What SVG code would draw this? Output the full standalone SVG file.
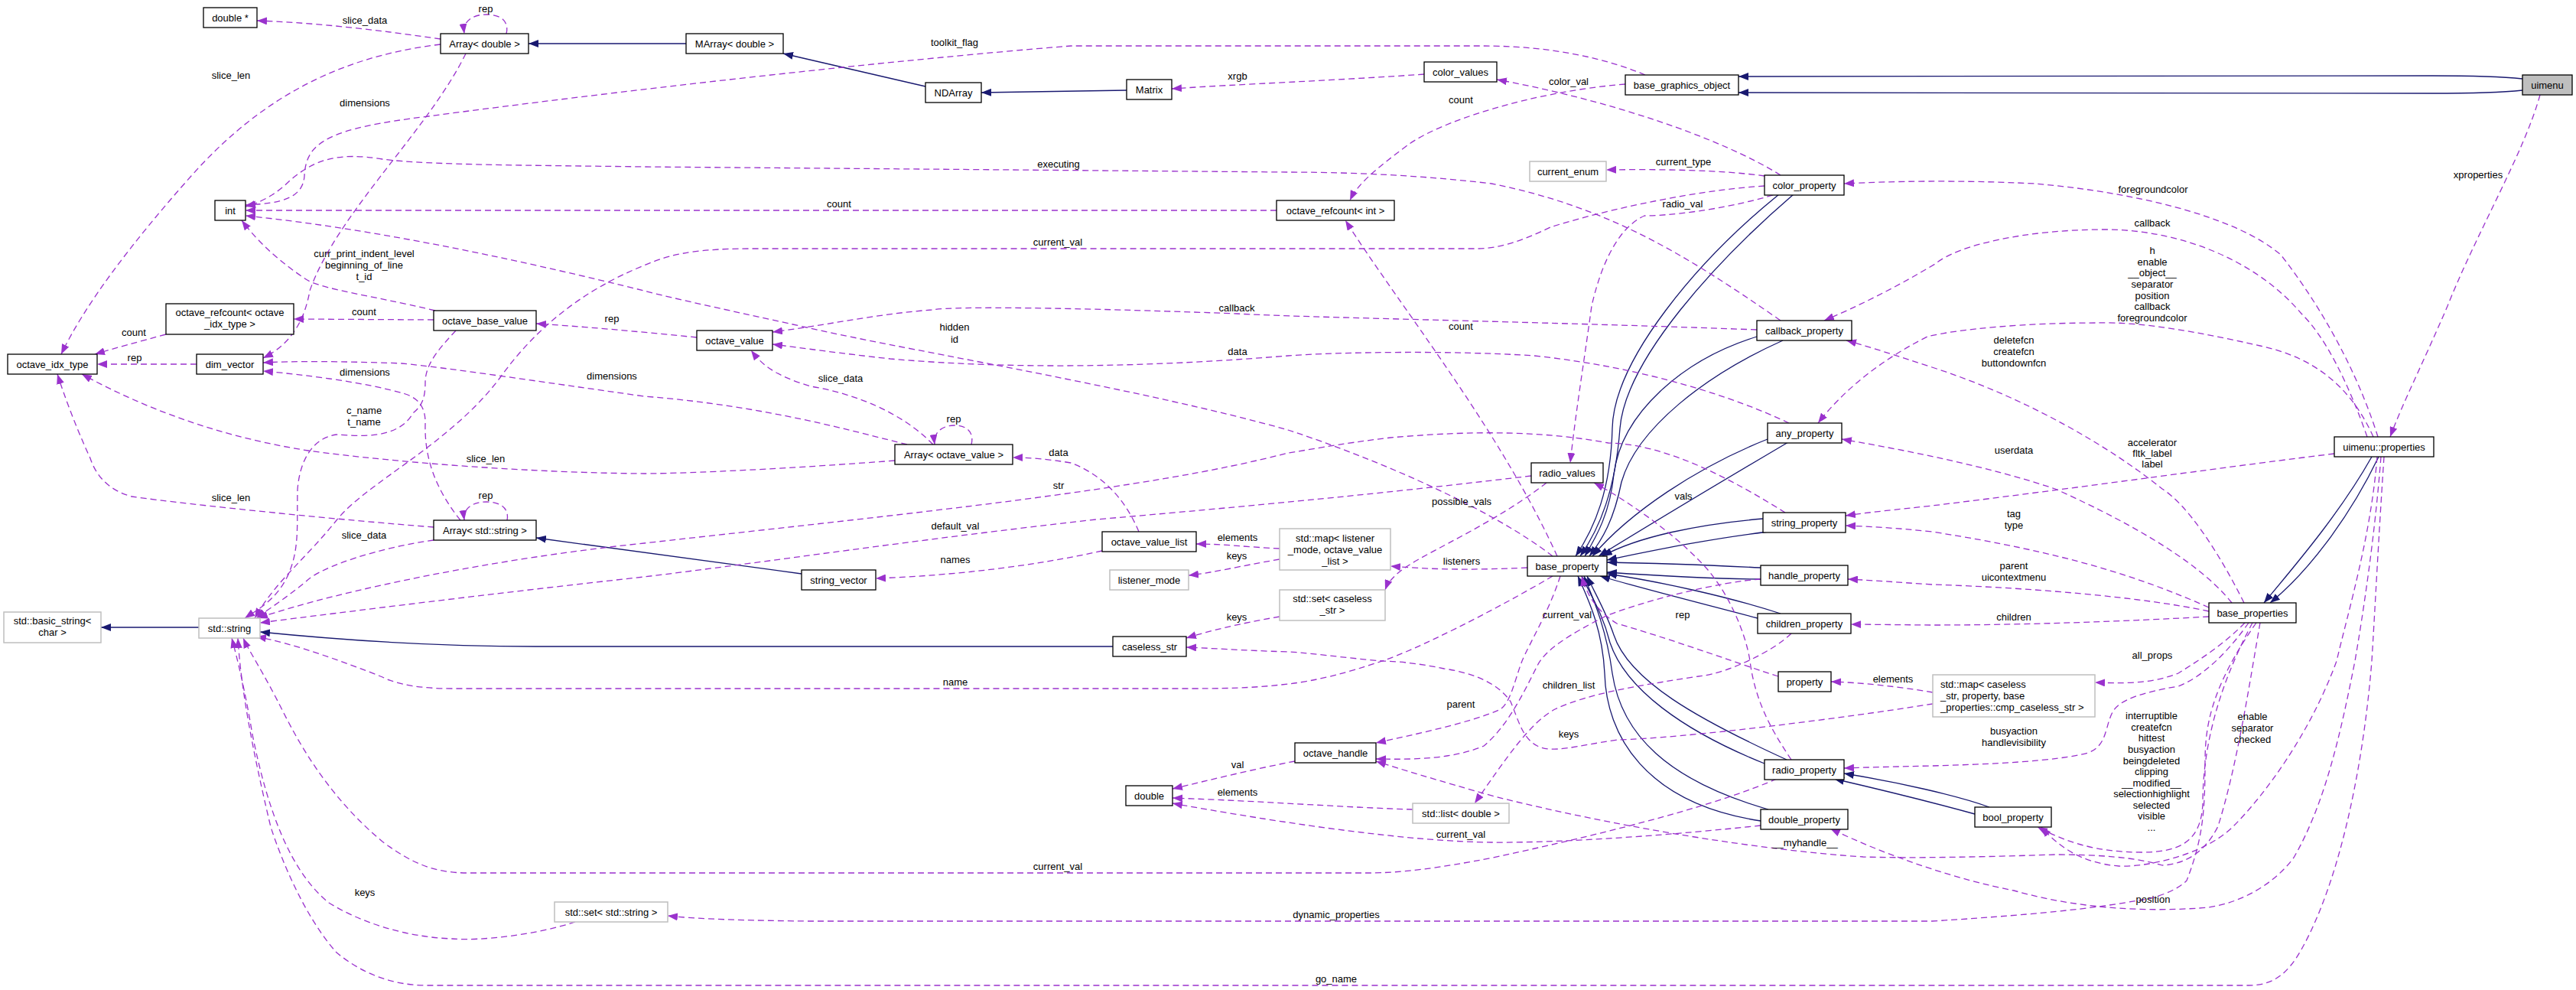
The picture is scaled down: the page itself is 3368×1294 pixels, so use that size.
<svg xmlns="http://www.w3.org/2000/svg" width="3368" height="1294" viewBox="0 0 3368 1294">
<style>
.n rect{fill:#fff;stroke:#000;stroke-width:1.3}
.g rect{fill:#fff;stroke:#bfbfbf;stroke-width:1.5}
.r rect{fill:#bfbfbf;stroke:#000;stroke-width:1.3}
text{font-family:"Liberation Sans",Arial,Helvetica,sans-serif;font-size:13px;fill:#000;text-anchor:middle}
.lt{text-anchor:start}
.e{fill:none;stroke:#9a32cd;stroke-width:1.3;stroke-dasharray:8,5;marker-end:url(#ap)}
.i{fill:none;stroke:#191970;stroke-width:1.3;marker-end:url(#an)}
</style>
<defs>
<marker id="ap" viewBox="0 0 13 10" refX="13" refY="5" markerWidth="13" markerHeight="10" orient="auto" markerUnits="userSpaceOnUse"><path d="M0,0 L13,5 L0,10 z" fill="#9a32cd"/></marker>
<marker id="an" viewBox="0 0 13 10" refX="13" refY="5" markerWidth="13" markerHeight="10" orient="auto" markerUnits="userSpaceOnUse"><path d="M0,0 L13,5 L0,10 z" fill="#191970"/></marker>
</defs>
<rect width="3368" height="1294" fill="#fff"/>
<g id="edges">
<path class="i" d="M3298,103 C3260,99 3220,99 3180,99 L2273,100"/>
<path class="i" d="M3298,118 C3260,122 3220,122 3180,122 L2273,121"/>
<path class="i" d="M897,57 L691,57"/>
<path class="i" d="M1210,113 L1024,70"/>
<path class="i" d="M1473,118 L1283,121"/>
<path class="i" d="M260,820 L132,820"/>
<path class="i" d="M1455,845 L700,845 C560,845 440,836 340,826"/>
<path class="i" d="M1048,750 L701,703"/>
<path class="i" d="M2326,254 C2220,340 2110,470 2108,560 C2106,640 2085,690 2060,727"/>
<path class="i" d="M2345,254 C2245,340 2125,470 2118,560 C2112,640 2092,690 2066,727"/>
<path class="i" d="M2297,440 C2200,470 2120,540 2110,620 C2105,670 2088,700 2072,727"/>
<path class="i" d="M2331,445 C2230,490 2140,560 2120,630 C2110,680 2095,705 2078,727"/>
<path class="i" d="M2311,574 C2220,610 2130,670 2082,727"/>
<path class="i" d="M2338,578 C2250,630 2150,690 2090,727"/>
<path class="i" d="M2305,678 C2220,685 2140,702 2095,727"/>
<path class="i" d="M2312,695 C2230,705 2160,720 2101,732"/>
<path class="i" d="M2302,742 C2240,739 2160,736 2101,735"/>
<path class="i" d="M2302,757 C2240,757 2160,752 2101,748"/>
<path class="i" d="M2328,802 C2260,780 2170,760 2101,750"/>
<path class="i" d="M2298,808 C2230,790 2150,770 2092,753"/>
<path class="i" d="M2336,993 C2220,940 2130,890 2110,830 C2100,800 2085,775 2075,753"/>
<path class="i" d="M2307,998 C2200,955 2125,900 2105,840 C2095,800 2078,775 2068,753"/>
<path class="i" d="M2312,1058 C2180,1020 2120,960 2108,880 C2100,820 2082,780 2071,753"/>
<path class="i" d="M2302,1073 C2150,1050 2100,960 2098,880 C2095,820 2075,780 2063,753"/>
<path class="i" d="M2601,1055 C2560,1040 2480,1022 2411,1011"/>
<path class="i" d="M2582,1064 C2520,1047 2450,1030 2398,1018"/>
<path class="i" d="M3101,597 C3060,670 3000,740 2960,788"/>
<path class="i" d="M3110,597 C3070,680 3015,750 2968,788"/>
<path class="e" d="M576,51 C500,40 420,30 336,27"/>
<path class="e" d="M662,44 C666,28 655,19 636,19 C617,19 605,28 607,44"/>
<path class="e" d="M576,58 C430,75 330,140 250,230 C170,320 110,400 80,463"/>
<path class="e" d="M609,70 C560,170 440,280 405,380 C398,420 380,450 344,468"/>
<path class="e" d="M2151,98 C2080,68 2000,60 1940,60 L1400,60 C1150,80 800,120 560,152 C430,168 400,185 398,230 C396,258 370,266 321,268"/>
<path class="e" d="M1862,97 C1750,105 1620,110 1532,116"/>
<path class="e" d="M2328,229 C2250,180 2100,130 1957,104"/>
<path class="e" d="M2125,110 C2000,120 1880,160 1840,190 C1800,220 1775,240 1765,262"/>
<path class="e" d="M2307,230 C2250,222 2170,221 2100,222"/>
<path class="e" d="M2307,243 C2200,250 2080,280 2027,297 C1990,315 1960,325 1930,325 L980,325 C900,325 870,335 842,347 C760,380 700,430 655,492 C590,580 480,630 440,680 C400,730 360,760 333,808"/>
<path class="e" d="M2318,255 C2250,275 2180,282 2150,282 C2110,300 2090,360 2081,400 C2070,480 2060,540 2053,605"/>
<path class="e" d="M1669,275 L321,275"/>
<path class="e" d="M2328,419 C2200,330 2100,270 1950,240 C1850,228 1750,225 1684,225 L842,218 C700,216 560,216 500,208 C440,198 410,210 380,235 C360,255 340,265 321,270"/>
<path class="e" d="M569,406 C480,385 420,378 400,365 C370,345 340,320 316,288"/>
<path class="e" d="M2030,727 C1950,665 1800,600 1684,562 C1500,510 1200,460 1073,432 C950,405 880,390 842,380 C700,345 500,300 321,282"/>
<path class="e" d="M2036,727 C1960,560 1830,400 1759,288"/>
<path class="e" d="M2297,431 C2000,420 1700,415 1617,410 C1400,402 1250,400 1218,405 C1150,410 1080,425 1010,434"/>
<path class="e" d="M2339,553 C2270,520 2150,480 2006,465 C1900,458 1750,460 1684,465 C1500,480 1325,483 1164,469 C1100,462 1050,455 1010,450"/>
<path class="e" d="M911,441 C850,435 780,428 701,423"/>
<path class="e" d="M1220,581 C1180,540 1120,515 1060,505 C1010,490 995,475 982,458"/>
<path class="e" d="M1270,581 C1274,565 1264,556 1248,556 C1232,556 1220,565 1222,581"/>
<path class="e" d="M1186,581 C1120,565 1000,530 842,518 C700,498 580,480 525,475 C450,472 380,472 344,474"/>
<path class="e" d="M1170,602 C1000,615 880,619 842,619 C700,618 520,605 403,589 C300,573 200,540 107,489"/>
<path class="e" d="M567,689 C450,680 250,660 172,649 C140,640 125,620 118,599 C100,560 85,520 75,489"/>
<path class="e" d="M663,680 C666,665 655,656 636,656 C617,656 605,665 607,680"/>
<path class="e" d="M602,680 C570,640 555,600 556,555 C557,530 545,520 530,515 C480,500 400,490 344,485"/>
<path class="e" d="M567,706 C500,715 420,740 400,760 C370,785 345,800 335,808"/>
<path class="e" d="M596,432 C575,455 556,475 556,500 C556,520 552,530 540,540 C520,575 470,570 440,568 C410,572 392,600 389,640 C388,690 392,720 375,755 C360,785 335,798 320,808"/>
<path class="e" d="M567,418 L384,417"/>
<path class="e" d="M217,437 C180,447 150,455 124,463"/>
<path class="e" d="M257,476 L127,476"/>
<path class="e" d="M1489,695 C1470,650 1440,620 1400,605 C1370,600 1345,598 1324,598"/>
<path class="e" d="M1441,720 C1350,740 1250,752 1145,756"/>
<path class="e" d="M1673,717 C1630,715 1600,711 1564,711"/>
<path class="e" d="M1673,731 C1620,740 1590,748 1554,752"/>
<path class="e" d="M1997,742 C1930,745 1880,745 1818,740"/>
<path class="e" d="M2022,631 C1960,680 1870,720 1840,740 C1825,750 1815,760 1811,771"/>
<path class="e" d="M2002,622 C1850,640 1700,656 1433,679 C1200,705 1000,735 842,754 C650,775 450,800 340,814"/>
<path class="e" d="M2334,670 C2270,630 2180,580 2103,579 C2000,560 1900,565 1818,572 C1750,580 1700,590 1684,592 C1500,640 1200,670 842,710 C650,730 450,770 337,808"/>
<path class="e" d="M2030,753 C1950,800 1850,850 1807,864 C1760,880 1720,890 1684,894 C1650,898 1620,900 1560,900 L591,900 C550,900 520,895 500,885 C450,865 380,840 335,832"/>
<path class="e" d="M752,1205 C700,1222 630,1230 591,1227 C530,1225 470,1205 430,1180 C380,1140 350,1060 330,960 C320,900 310,860 303,834"/>
<path class="e" d="M2323,1018 C2250,1050 2120,1085 1952,1121 C1880,1135 1830,1141 1791,1141 L612,1141 C570,1141 540,1130 500,1100 C440,1050 400,990 370,930 C345,880 325,850 318,834"/>
<path class="e" d="M1847,1058 C1750,1055 1650,1047 1533,1043"/>
<path class="e" d="M1693,995 C1640,1005 1580,1020 1533,1031"/>
<path class="e" d="M2302,1079 C2200,1090 2050,1102 1950,1101 C1850,1100 1700,1080 1533,1050"/>
<path class="e" d="M2302,757 C2250,760 2150,785 2100,805 C2050,830 2020,850 2010,870 C1990,910 1970,950 1940,975 C1900,992 1850,993 1799,992"/>
<path class="e" d="M2040,753 C2025,800 2000,840 1990,864 C1980,890 1975,920 1960,928 C1920,945 1850,960 1799,971"/>
<path class="e" d="M2342,828 C2320,850 2260,880 2221,884 C2150,895 2080,905 2033,927 C2000,945 1970,990 1928,1050"/>
<path class="e" d="M2325,884 C2280,870 2200,840 2114,815 C2090,800 2075,780 2068,753"/>
<path class="e" d="M2527,905 C2480,897 2430,892 2394,891"/>
<path class="e" d="M2527,920 C2400,940 2200,965 2114,967 C2060,975 2030,985 2010,975 C1990,965 1985,940 1975,917 C1960,895 1930,880 1888,874 C1850,866 1820,864 1807,864 C1760,860 1700,852 1684,852 C1620,850 1580,847 1551,846"/>
<path class="e" d="M1673,806 C1620,815 1580,825 1551,834"/>
<path class="e" d="M2342,993 C2320,960 2295,920 2288,864 C2283,830 2260,770 2221,732 C2180,690 2120,650 2084,631"/>
<path class="e" d="M3321,124 C3300,200 3240,300 3200,400 C3170,470 3140,530 3125,571"/>
<path class="e" d="M3109,571 C3090,510 3050,420 2982,333 C2920,280 2780,250 2660,240 C2560,235 2470,237 2411,240"/>
<path class="e" d="M3095,571 C3070,500 3040,440 3009,410 C2950,340 2850,300 2752,300 C2650,300 2560,320 2530,345 C2480,375 2430,400 2385,419"/>
<path class="e" d="M3103,571 C3080,520 3040,470 2955,452 C2880,435 2800,420 2741,422 C2650,422 2560,430 2520,440 C2460,470 2410,510 2377,553"/>
<path class="e" d="M2934,788 C2900,720 2860,660 2827,639 C2760,585 2650,520 2526,480 C2480,465 2440,452 2414,445"/>
<path class="e" d="M2918,788 C2880,740 2800,690 2687,639 C2600,610 2500,590 2408,574"/>
<path class="e" d="M3052,593 C2950,605 2700,640 2526,661 C2480,666 2440,670 2413,674"/>
<path class="e" d="M2888,794 C2800,755 2700,722 2526,695 C2480,690 2440,688 2413,687"/>
<path class="e" d="M2888,799 C2800,780 2650,768 2526,764 C2480,761 2440,758 2416,757"/>
<path class="e" d="M2888,806 C2780,812 2650,817 2526,817 L2420,816"/>
<path class="e" d="M2935,814 C2910,840 2880,860 2848,880 C2810,895 2770,893 2739,892"/>
<path class="e" d="M2940,814 C2915,850 2880,885 2848,897 C2800,905 2770,915 2762,931 C2752,950 2755,975 2730,984 C2690,995 2600,999 2526,1001 C2480,1002 2440,1003 2411,1004"/>
<path class="e" d="M2945,814 C2910,880 2880,960 2880,1050 C2878,1100 2850,1114 2800,1114 C2740,1114 2700,1100 2664,1081"/>
<path class="e" d="M3108,597 C3100,700 3070,800 3055,864 C3020,960 2960,1040 2920,1080 C2880,1120 2800,1134 2770,1132 C2720,1128 2690,1105 2669,1081"/>
<path class="e" d="M2950,814 C2890,900 2883,950 2883,997 C2883,1060 2880,1097 2859,1151 C2840,1170 2800,1177 2795,1177 C2750,1185 2687,1194 2526,1204 L1057,1204 C950,1203 900,1200 873,1197"/>
<path class="e" d="M2955,814 C2940,900 2925,1000 2900,1080 C2880,1120 2850,1130 2827,1131 C2790,1120 2740,1117 2687,1117 C2600,1120 2500,1122 2436,1120 C2300,1111 2114,1081 1954,1041 C1880,1020 1830,1005 1799,995"/>
<path class="e" d="M3113,597 C3105,700 3090,800 3079,864 C3060,960 3040,1050 2999,1121 C2970,1160 2920,1185 2875,1187 C2800,1192 2714,1187 2633,1164 C2560,1150 2470,1120 2393,1083"/>
<path class="e" d="M3117,597 C3110,700 3105,800 3101,864 C3090,1000 3060,1150 3009,1241 C2990,1275 2970,1288 2940,1288 L558,1288 C510,1288 470,1270 440,1245 C400,1200 370,1130 354,1081 C330,980 315,900 311,834"/>
</g>
<g id="labels">
<text x="477" y="31">slice_data</text>
<text x="635" y="16">rep</text>
<text x="302" y="103">slice_len</text>
<text x="477" y="139">dimensions</text>
<text x="1248" y="60">toolkit_flag</text>
<text x="1618" y="104">xrgb</text>
<text x="2051" y="111">color_val</text>
<text x="1910" y="135">count</text>
<text x="2201" y="216">current_type</text>
<text x="1383" y="321">current_val</text>
<text x="2200" y="271">radio_val</text>
<text x="1097" y="271">count</text>
<text x="1384" y="219">executing</text>
<text x="476" y="336">curr_print_indent_level</text>
<text x="476" y="351">beginning_of_line</text>
<text x="476" y="366">t_id</text>
<text x="1248" y="432">hidden</text>
<text x="1248" y="448">id</text>
<text x="1910" y="431">count</text>
<text x="1617" y="407">callback</text>
<text x="1618" y="464">data</text>
<text x="800" y="421">rep</text>
<text x="1099" y="499">slice_data</text>
<text x="1247" y="552">rep</text>
<text x="800" y="496">dimensions</text>
<text x="635" y="604">slice_len</text>
<text x="302" y="655">slice_len</text>
<text x="635" y="652">rep</text>
<text x="477" y="491">dimensions</text>
<text x="476" y="704">slice_data</text>
<text x="476" y="541">c_name</text>
<text x="476" y="556">t_name</text>
<text x="476" y="412">count</text>
<text x="175" y="439">count</text>
<text x="176" y="472">rep</text>
<text x="1384" y="596">data</text>
<text x="1249" y="736">names</text>
<text x="1618" y="707">elements</text>
<text x="1617" y="731">keys</text>
<text x="1911" y="738">listeners</text>
<text x="1911" y="660">possible_vals</text>
<text x="1249" y="692">default_val</text>
<text x="1384" y="639">str</text>
<text x="1249" y="896">name</text>
<text x="477" y="1171">keys</text>
<text x="1383" y="1137">current_val</text>
<text x="1618" y="1040">elements</text>
<text x="1618" y="1004">val</text>
<text x="1910" y="1095">current_val</text>
<text x="2049" y="808">current_val</text>
<text x="1910" y="925">parent</text>
<text x="2051" y="900">children_list</text>
<text x="2200" y="808">rep</text>
<text x="2475" y="892">elements</text>
<text x="2051" y="964">keys</text>
<text x="1617" y="811">keys</text>
<text x="2201" y="653">vals</text>
<text x="3240" y="233">xproperties</text>
<text x="2815" y="252">foregroundcolor</text>
<text x="2814" y="296">callback</text>
<text x="2814" y="332">h</text>
<text x="2814" y="347">enable</text>
<text x="2814" y="361">__object__</text>
<text x="2814" y="376">separator</text>
<text x="2814" y="391">position</text>
<text x="2814" y="405">callback</text>
<text x="2814" y="420">foregroundcolor</text>
<text x="2633" y="449">deletefcn</text>
<text x="2633" y="464">createfcn</text>
<text x="2633" y="479">buttondownfcn</text>
<text x="2633" y="593">userdata</text>
<text x="2814" y="583">accelerator</text>
<text x="2814" y="597">fltk_label</text>
<text x="2814" y="611">label</text>
<text x="2633" y="676">tag</text>
<text x="2633" y="691">type</text>
<text x="2633" y="744">parent</text>
<text x="2633" y="759">uicontextmenu</text>
<text x="2633" y="811">children</text>
<text x="2814" y="861">all_props</text>
<text x="2633" y="960">busyaction</text>
<text x="2633" y="975">handlevisibility</text>
<text x="2813" y="940">interruptible</text>
<text x="2813" y="955">createfcn</text>
<text x="2813" y="969">hittest</text>
<text x="2813" y="984">busyaction</text>
<text x="2813" y="999">beingdeleted</text>
<text x="2813" y="1013">clipping</text>
<text x="2813" y="1028">__modified__</text>
<text x="2813" y="1042">selectionhighlight</text>
<text x="2813" y="1057">selected</text>
<text x="2813" y="1071">visible</text>
<text x="2813" y="1086">...</text>
<text x="2945" y="941">enable</text>
<text x="2945" y="956">separator</text>
<text x="2945" y="971">checked</text>
<text x="1747" y="1200">dynamic_properties</text>
<text x="2360" y="1106">__myhandle__</text>
<text x="2815" y="1180">position</text>
<text x="1747" y="1284">go_name</text>
</g>
<g id="n_double_ptr" class="n"><rect x="266" y="10" width="70" height="26"/><text x="301" y="27.5">double *</text></g>
<g id="n_array_double" class="n"><rect x="576" y="44" width="115" height="26"/><text x="633.5" y="61.5">Array&lt; double &gt;</text></g>
<g id="n_marray_double" class="n"><rect x="897" y="44" width="127" height="26"/><text x="960.5" y="61.5">MArray&lt; double &gt;</text></g>
<g id="n_ndarray" class="n"><rect x="1210" y="108" width="73" height="26"/><text x="1246.5" y="125.5">NDArray</text></g>
<g id="n_matrix" class="n"><rect x="1473" y="104" width="59" height="26"/><text x="1502.5" y="121.5">Matrix</text></g>
<g id="n_color_values" class="n"><rect x="1862" y="81" width="95" height="26"/><text x="1909.5" y="98.5">color_values</text></g>
<g id="n_base_graphics_object" class="n"><rect x="2125" y="98" width="148" height="26"/><text x="2199" y="115.5">base_graphics_object</text></g>
<g id="n_uimenu" class="r"><rect x="3298" y="98" width="65" height="26"/><text x="3330.5" y="115.5">uimenu</text></g>
<g id="n_current_enum" class="g"><rect x="2000" y="211" width="100" height="26"/><text x="2050" y="228.5">current_enum</text></g>
<g id="n_color_property" class="n"><rect x="2307" y="229" width="104" height="26"/><text x="2359" y="246.5">color_property</text></g>
<g id="n_int" class="n"><rect x="281" y="262" width="40" height="26"/><text x="301" y="279.5">int</text></g>
<g id="n_refcount_int" class="n"><rect x="1669" y="262" width="154" height="26"/><text x="1746" y="279.5">octave_refcount&lt; int &gt;</text></g>
<g id="n_refcount_idx" class="n"><rect x="217" y="397" width="167" height="40"/><text x="300.5" y="413">octave_refcount&lt; octave</text><text x="300.5" y="428">_idx_type &gt;</text></g>
<g id="n_octave_base_value" class="n"><rect x="567" y="406" width="134" height="26"/><text x="634" y="423.5">octave_base_value</text></g>
<g id="n_octave_value" class="n"><rect x="911" y="432" width="99" height="26"/><text x="960.5" y="449.5">octave_value</text></g>
<g id="n_callback_property" class="n"><rect x="2297" y="419" width="124" height="26"/><text x="2359" y="436.5">callback_property</text></g>
<g id="n_octave_idx_type" class="n"><rect x="10" y="463" width="117" height="26"/><text x="68.5" y="480.5">octave_idx_type</text></g>
<g id="n_dim_vector" class="n"><rect x="257" y="463" width="87" height="26"/><text x="300.5" y="480.5">dim_vector</text></g>
<g id="n_any_property" class="n"><rect x="2311" y="553" width="97" height="26"/><text x="2359.5" y="570.5">any_property</text></g>
<g id="n_uimenu_properties" class="n"><rect x="3052" y="571" width="130" height="26"/><text x="3117" y="588.5">uimenu::properties</text></g>
<g id="n_array_octave_value" class="n"><rect x="1170" y="581" width="154" height="26"/><text x="1247" y="598.5">Array&lt; octave_value &gt;</text></g>
<g id="n_radio_values" class="n"><rect x="2002" y="605" width="94" height="26"/><text x="2049" y="622.5">radio_values</text></g>
<g id="n_string_property" class="n"><rect x="2305" y="670" width="108" height="26"/><text x="2359" y="687.5">string_property</text></g>
<g id="n_array_string" class="n"><rect x="567" y="680" width="134" height="26"/><text x="634" y="697.5">Array&lt; std::string &gt;</text></g>
<g id="n_map_listener" class="g"><rect x="1673" y="691" width="145" height="54"/><text x="1745.5" y="708">std::map&lt; listener</text><text x="1745.5" y="723">_mode, octave_value</text><text x="1745.5" y="738">_list &gt;</text></g>
<g id="n_octave_value_list" class="n"><rect x="1441" y="695" width="123" height="26"/><text x="1502.5" y="712.5">octave_value_list</text></g>
<g id="n_base_property" class="n"><rect x="1997" y="727" width="104" height="26"/><text x="2049" y="744.5">base_property</text></g>
<g id="n_handle_property" class="n"><rect x="2302" y="739" width="114" height="26"/><text x="2359" y="756.5">handle_property</text></g>
<g id="n_listener_mode" class="g"><rect x="1451" y="745" width="103" height="26"/><text x="1502.5" y="762.5">listener_mode</text></g>
<g id="n_string_vector" class="n"><rect x="1048" y="745" width="97" height="26"/><text x="1096.5" y="762.5">string_vector</text></g>
<g id="n_set_caseless" class="g"><rect x="1673" y="771" width="138" height="40"/><text x="1742" y="787">std::set&lt; caseless</text><text x="1742" y="802">_str &gt;</text></g>
<g id="n_base_properties" class="n"><rect x="2888" y="788" width="114" height="26"/><text x="2945" y="805.5">base_properties</text></g>
<g id="n_children_property" class="n"><rect x="2298" y="802" width="122" height="26"/><text x="2359" y="819.5">children_property</text></g>
<g id="n_basic_string" class="g"><rect x="5" y="800" width="127" height="40"/><text x="68.5" y="816">std::basic_string&lt;</text><text x="68.5" y="831">char &gt;</text></g>
<g id="n_std_string" class="g"><rect x="260" y="808" width="80" height="26"/><text x="300" y="825.5">std::string</text></g>
<g id="n_caseless_str" class="n"><rect x="1455" y="832" width="96" height="26"/><text x="1503" y="849.5">caseless_str</text></g>
<g id="n_property" class="n"><rect x="2325" y="878" width="69" height="26"/><text x="2359.5" y="895.5">property</text></g>
<g id="n_map_caseless" class="g"><rect x="2527" y="882" width="212" height="55"/><text class="lt" x="2537" y="899">std::map&lt; caseless</text><text class="lt" x="2537" y="914">_str, property, base</text><text class="lt" x="2537" y="929">_properties::cmp_caseless_str &gt;</text></g>
<g id="n_octave_handle" class="n"><rect x="1693" y="971" width="106" height="26"/><text x="1746" y="988.5">octave_handle</text></g>
<g id="n_radio_property" class="n"><rect x="2307" y="993" width="104" height="26"/><text x="2359" y="1010.5">radio_property</text></g>
<g id="n_double" class="n"><rect x="1472" y="1027" width="61" height="26"/><text x="1502.5" y="1044.5">double</text></g>
<g id="n_list_double" class="g"><rect x="1847" y="1050" width="126" height="26"/><text x="1910" y="1067.5">std::list&lt; double &gt;</text></g>
<g id="n_bool_property" class="n"><rect x="2582" y="1055" width="100" height="26"/><text x="2632" y="1072.5">bool_property</text></g>
<g id="n_double_property" class="n"><rect x="2302" y="1058" width="114" height="26"/><text x="2359" y="1075.5">double_property</text></g>
<g id="n_set_string" class="g"><rect x="725" y="1179" width="148" height="26"/><text x="799" y="1196.5">std::set&lt; std::string &gt;</text></g>
</svg>
